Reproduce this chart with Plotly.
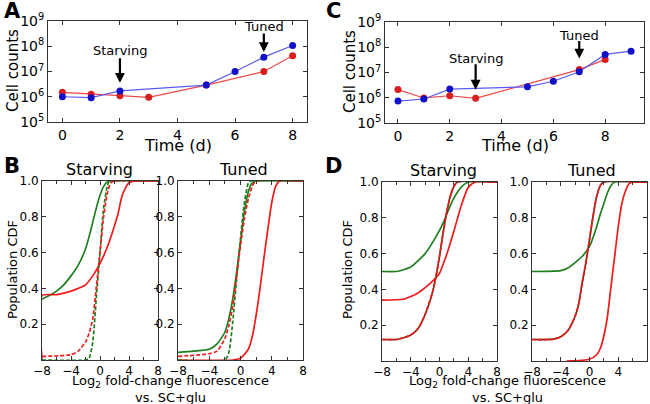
import plotly.graph_objects as go

# ---------------- Data: growth curves ----------------
time_A_blue = [0, 1, 2, 5, 6, 7, 8]
counts_A_blue = [1.0e6, 0.92e6, 1.7e6, 2.9e6, 1.0e7, 3.7e7, 1.07e8]
time_A_red = [0, 1, 2, 3, 5, 7, 8]
counts_A_red = [1.5e6, 1.25e6, 1.1e6, 0.95e6, 2.9e6, 1.0e7, 4.2e7]

time_C_blue = [0, 1, 2, 5, 6, 7, 8, 9]
counts_C_blue = [7.4e5, 8.9e5, 2.2e6, 2.7e6, 4.5e6, 1.07e7, 5.2e7, 7.0e7]
err_C_blue = [0, 0, 0, 0, 0, 0, 1.0e7, 1.3e7]
time_C_red = [0, 1, 2, 3, 7, 8]
counts_C_red = [2.1e6, 9.8e5, 1.2e6, 9.5e5, 1.3e7, 3.3e7]

log_tick_vals = [1e5, 1e6, 1e7, 1e8, 1e9]
log_tick_text = ["10<sup>5</sup>", "10<sup>6</sup>", "10<sup>7</sup>", "10<sup>8</sup>", "10<sup>9</sup>"]
time_ticks = [0, 2, 4, 6, 8]

# ---------------- Data: CDF curves ----------------
# Panel B, Starving
B1_green_solid_x = [-8, -7, -6, -5, -4, -3, -2, -1.5, -1, -0.5, 0, 0.5, 1, 1.5, 8]
B1_green_solid_y = [0.34, 0.36, 0.385, 0.42, 0.47, 0.53, 0.62, 0.69, 0.77, 0.85, 0.92, 0.97, 0.995, 1.0, 1.0]
B1_red_solid_x = [-8, -8, -6, -4, -3, -2, -1, 0, 1, 2, 2.5, 3, 3.5, 4, 5, 8]
B1_red_solid_y = [0.0, 0.36, 0.365, 0.385, 0.40, 0.42, 0.47, 0.54, 0.63, 0.75, 0.82, 0.91, 0.96, 0.99, 1.0, 1.0]
B1_red_dash_x = [-8, -4, -3, -2, -1.5, -1, -0.5, 0, 0.5, 1, 1.5, 2, 8]
B1_red_dash_y = [0.02, 0.03, 0.05, 0.10, 0.15, 0.23, 0.41, 0.60, 0.80, 0.93, 0.99, 1.0, 1.0]
B1_green_dash_x = [-8, -2, -1.5, -1, -0.5, 0, 0.5, 1, 1.3, 8]
B1_green_dash_y = [0.0, 0.0, 0.01, 0.10, 0.35, 0.60, 0.85, 0.97, 1.0, 1.0]

# Panel B, Tuned
B2_green_solid_x = [-8, -6, -4, -3, -2, -1.5, -1, -0.5, 0, 0.5, 1, 1.5, 2, 8]
B2_green_solid_y = [0.043, 0.05, 0.06, 0.09, 0.155, 0.23, 0.34, 0.49, 0.66, 0.83, 0.94, 0.99, 1.0, 1.0]
B2_red_dash_x = [-8, -4, -3, -2, -1.5, -1, -0.5, 0, 0.5, 1, 1.5, 2, 8]
B2_red_dash_y = [0.02, 0.035, 0.05, 0.12, 0.19, 0.30, 0.47, 0.64, 0.79, 0.90, 0.97, 1.0, 1.0]
B2_green_dash_x = [-8, -2, -1.5, -1, -0.5, 0, 0.5, 1, 1.2, 8]
B2_green_dash_y = [0.0, 0.0, 0.04, 0.21, 0.45, 0.68, 0.88, 0.99, 1.0, 1.0]
B2_red_solid_x = [-8, -1, 0, 1, 1.5, 2, 2.5, 3, 3.5, 4, 4.5, 5, 8]
B2_red_solid_y = [0.0, 0.0, 0.01, 0.06, 0.13, 0.25, 0.40, 0.57, 0.73, 0.88, 0.97, 1.0, 1.0]

# Panel D, Starving
D1_green_solid_x = [-8, -6, -5, -4, -3, -2, -1, 0, 0.5, 1, 2, 3, 4, 8]
D1_green_solid_y = [0.50, 0.50, 0.51, 0.525, 0.56, 0.60, 0.66, 0.73, 0.77, 0.82, 0.91, 0.97, 1.0, 1.0]
D1_red_solid_x = [-8, -5, -4, -3, -2, -1, 0, 0.5, 1, 2, 3, 4, 5, 8]
D1_red_solid_y = [0.34, 0.345, 0.36, 0.38, 0.41, 0.445, 0.49, 0.54, 0.595, 0.725, 0.865, 0.97, 1.0, 1.0]
D1_dash_x = [-8, -6, -5, -4, -3, -2, -1, -0.5, 0, 0.5, 1, 1.5, 2, 2.5, 8]
D1_dash_y = [0.12, 0.12, 0.13, 0.145, 0.18, 0.26, 0.38, 0.47, 0.585, 0.715, 0.83, 0.92, 0.975, 1.0, 1.0]

# Panel D, Tuned
D2_green_solid_x = [-8, -4, -3, -2, -1, 0, 0.5, 1, 1.5, 2, 2.5, 3, 3.5, 8]
D2_green_solid_y = [0.50, 0.505, 0.52, 0.55, 0.585, 0.64, 0.69, 0.75, 0.82, 0.88, 0.94, 0.98, 1.0, 1.0]
D2_dash_x = [-8, -5, -4, -3, -2, -1.5, -1, -0.5, 0, 0.5, 1, 1.5, 2, 8]
D2_dash_y = [0.12, 0.122, 0.135, 0.17, 0.25, 0.32, 0.44, 0.55, 0.68, 0.81, 0.92, 0.98, 1.0, 1.0]
D2_red_solid_x = [-3.2, 0, 1, 1.5, 2, 2.5, 3, 3.5, 4, 4.5, 5, 5.5, 6, 8]
D2_red_solid_y = [0.0, 0.01, 0.035, 0.07, 0.14, 0.25, 0.42, 0.585, 0.75, 0.88, 0.95, 0.99, 1.0, 1.0]

cdf_x_ticks = [-8, -4, 0, 4, 8]
cdf_y_ticks = [0.2, 0.4, 0.6, 0.8, 1.0]

# ---------------- Styling ----------------
FONT = "DejaVu Sans"
BLUE_M, BLUE_L = "#1010c8", "#5a5af0"
RED_M, RED_L = "#d81e1e", "#f04848"
GREEN = "#1f7f1f"
RED = "#ee1c1c"
W, H = 650, 404


def px_x(p):
    return p / W


def px_y(p):
    return 1 - p / H


fig = go.Figure()


def growth(x, y, xa, ya, mc, lc, err=None):
    fig.add_trace(go.Scatter(x=x, y=y, xaxis=xa, yaxis=ya, mode="lines+markers",
                             line=dict(color=lc, width=1.2),
                             marker=dict(color=mc, size=7, line=dict(width=0)),
                             error_y=(dict(type="data", array=err, visible=True, color=lc,
                                           thickness=1, width=0) if err else None),
                             showlegend=False, hoverinfo="skip"))


growth(time_A_red, counts_A_red, "x", "y", RED_M, RED_L)
growth(time_A_blue, counts_A_blue, "x", "y", BLUE_M, BLUE_L)
growth(time_C_red, counts_C_red, "x2", "y2", RED_M, RED_L)
growth(time_C_blue, counts_C_blue, "x2", "y2", BLUE_M, BLUE_L, err_C_blue)


def cdf(x, y, xa, ya, color, dash="solid", width=1.7):
    fig.add_trace(go.Scatter(x=x, y=y, xaxis=xa, yaxis=ya, mode="lines",
                             line=dict(color=color, width=width, dash=dash, shape="spline", smoothing=0.6),
                             showlegend=False, hoverinfo="skip"))


# B Starving
cdf(B1_green_solid_x, B1_green_solid_y, "x3", "y3", GREEN)
cdf(B1_red_solid_x, B1_red_solid_y, "x3", "y3", RED)
cdf(B1_green_dash_x, B1_green_dash_y, "x3", "y3", GREEN, "4px,2px")
cdf(B1_red_dash_x, B1_red_dash_y, "x3", "y3", RED, "4px,2px")
# B Tuned
cdf(B2_green_solid_x, B2_green_solid_y, "x4", "y4", GREEN)
cdf(B2_red_solid_x, B2_red_solid_y, "x4", "y4", RED)
cdf(B2_green_dash_x, B2_green_dash_y, "x4", "y4", GREEN, "4px,2px")
cdf(B2_red_dash_x, B2_red_dash_y, "x4", "y4", RED, "4px,2px")
# D Starving
cdf(D1_green_solid_x, D1_green_solid_y, "x5", "y5", GREEN)
cdf(D1_red_solid_x, D1_red_solid_y, "x5", "y5", RED)
cdf(D1_dash_x, D1_dash_y, "x5", "y5", "#7a2a14", "solid", 1.7)
cdf(D1_dash_x, D1_dash_y, "x5", "y5", RED, "4px,2px")
# D Tuned
cdf(D2_green_solid_x, D2_green_solid_y, "x6", "y6", GREEN)
cdf(D2_red_solid_x, D2_red_solid_y, "x6", "y6", RED)
cdf(D2_dash_x, D2_dash_y, "x6", "y6", "#7a2a14", "solid", 1.7)
cdf(D2_dash_x, D2_dash_y, "x6", "y6", RED, "4px,2px")

axis_common = dict(showline=True, linecolor="#333", linewidth=1, mirror="ticks", automargin=False,
                   ticks="inside", ticklen=4, tickcolor="#333", showgrid=False, zeroline=False,
                   tickfont=dict(family=FONT, size=14, color="black"))

layout = dict(width=W, height=H, margin=dict(l=0, r=0, t=0, b=0, autoexpand=False),
              template="none",
              paper_bgcolor="white", plot_bgcolor="white", showlegend=False,
              font=dict(family=FONT, color="black"))

# A
layout["xaxis"] = dict(axis_common, domain=[px_x(48), px_x(307)], range=[-0.5, 8.5],
                       tickvals=time_ticks, anchor="y")
layout["yaxis"] = dict(axis_common, domain=[px_y(122), px_y(21)], type="log", range=[5, 9],
                       tickvals=log_tick_vals, ticktext=log_tick_text, anchor="x")
# C
layout["xaxis2"] = dict(axis_common, domain=[px_x(385), px_x(644)], range=[-0.5, 9.5],
                        tickvals=time_ticks, anchor="y2")
layout["yaxis2"] = dict(axis_common, domain=[px_y(123), px_y(22)], type="log", range=[5, 9],
                        tickvals=log_tick_vals, ticktext=log_tick_text, anchor="x2")

cdf_font = dict(family=FONT, size=12, color="black")
cdf_panels = [("3", 42, 158, 181, 360), ("4", 178, 303, 181, 360),
              ("5", 382, 497, 182, 361), ("6", 532, 647, 182, 361)]
for k, x0, x1, y0, y1 in cdf_panels:
    layout["xaxis" + k] = dict(axis_common, domain=[px_x(x0), px_x(x1)], range=[-8, 8],
                               tickvals=cdf_x_ticks, tickfont=cdf_font, anchor="y" + k,
                               minor=dict(dtick=2, ticks="inside", ticklen=3, tickcolor="#333"))
    layout["yaxis" + k] = dict(axis_common, domain=[px_y(y1), px_y(y0)], range=[0, 1],
                               tickvals=cdf_y_ticks, ticktext=["0.2", "0.4", "0.6", "0.8", "1.0"],
                               tickfont=cdf_font, anchor="x" + k)

fig.update_layout(**layout)

anns = []


def text(x, y, s, size, bold=False, angle=0):
    anns.append(dict(x=px_x(x), y=px_y(y), xref="paper", yref="paper", text=("<b>%s</b>" % s) if bold else s,
                     showarrow=False, font=dict(family=FONT, size=size, color="black"),
                     xanchor="center", yanchor="middle", textangle=angle))


# panel letters
text(12, 11, "A", 21, True)
text(12, 166, "B", 21, True)
text(333, 11, "C", 21, True)
text(333, 166, "D", 21, True)
# axis titles
text(13, 71, "Cell counts", 15, angle=-90)
text(350, 72, "Cell counts", 15, angle=-90)
text(178, 145, "Time (d)", 16)
text(515, 145, "Time (d)", 16)
text(12, 270, "Population CDF", 13, angle=-90)
text(347, 270, "Population CDF", 13, angle=-90)
text(170, 381, "Log<sub>2</sub> fold-change fluorescence", 13)
text(170, 397, "vs. SC+glu", 13)
text(507, 381, "Log<sub>2</sub> fold-change fluorescence", 13)
text(507, 397, "vs. SC+glu", 13)
# subplot titles
text(99, 170, "Starving", 16)
text(243, 170, "Tuned", 16)
text(443, 171, "Starving", 16)
text(591, 171, "Tuned", 16)

# arrows with labels on growth panels
arrow_specs = [("x", "y", 2, 6.55, -26, "Starving", 50),
               ("x", "y", 7, 7.77, -20, "Tuned", 26),
               ("x2", "y2", 3, 6.32, -27, "Starving", 57),
               ("x2", "y2", 7, 7.55, -19, "Tuned", 34)]
for xa, ya, xv, yv, ay, label, ty in arrow_specs:
    anns.append(dict(x=xv, y=yv, xref=xa, yref=ya, ax=0, ay=ay, axref="pixel", ayref="pixel",
                     showarrow=True, arrowhead=2, arrowsize=0.9, arrowwidth=2.2, arrowcolor="black",
                     text=""))
    anns.append(dict(x=xv, y=9 - (ty - 21) / 25.25, xref=xa, yref=ya, text=label, showarrow=False,
                     font=dict(family=FONT, size=13, color="black"), xanchor="center", yanchor="middle"))

fig.update_layout(annotations=anns)
fig.write_html("out.html", config={"displayModeBar": False},
               post_script="document.body.style.margin='0';document.body.style.padding='0';")
